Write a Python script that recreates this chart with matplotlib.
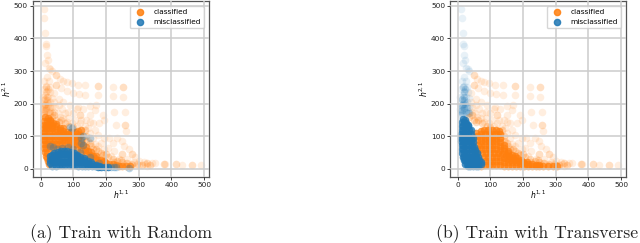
import numpy as np
import matplotlib
matplotlib.use('Agg')
import matplotlib.pyplot as plt

ORANGE = '#ff7f0e'
BLUE = '#1f77b4'

# faint points (same dataset in both panels)
sparse = np.array([
    (10, 490), (12, 462), (15, 416), (17, 382), (18, 378), (20, 350), (22, 334), (15, 325), (25, 310), (30, 305),
    (35, 300), (12, 270), (20, 282), (25, 270), (18, 255), (28, 250), (10, 245), (20, 240), (30, 235), (15, 228),
    (24, 222), (8, 220), (34, 218), (12, 210), (20, 206), (28, 204), (40, 205), (6, 200), (14, 195), (24, 192),
    (34, 190), (44, 190), (8, 185), (18, 180), (30, 178), (42, 176), (52, 172), (60, 160), (70, 155), (80, 145),
    (48, 287), (48, 287), (60, 275), (70, 270), (80, 265), (95, 262), (115, 258), (137, 256), (175, 254), (175, 254), (222, 252), (252, 250), (252, 250),
    (48, 257), (48, 257), (62, 248), (80, 238), (100, 233), (117, 230), (137, 228), (175, 226), (222, 223), (252, 222),
    (40, 232), (55, 215), (70, 205), (90, 195), (115, 190), (130, 185), (150, 192), (170, 195), (165, 180), (190, 165),
    (225, 175), (257, 175), (195, 150), (180, 140), (150, 145), (140, 150), (120, 165), (120, 165), (100, 170), (145, 125),
    (165, 120), (175, 105), (195, 95), (230, 135), (258, 135), (258, 135), (262, 115), (210, 95), (235, 95), (220, 80), (250, 85),
    (255, 70), (270, 60), (250, 45), (250, 45), (280, 45), (280, 45), (290, 35), (300, 25), (315, 22), (325, 18), (325, 18), (340, 18), (350, 18),
    (378, 15), (378, 15), (380, 14), (415, 14), (415, 14), (432, 13), (462, 12), (462, 12), (492, 11), (325, 10), (320, 14), (285, 20), (265, 30),
    (280, 12), (300, 12), (85, 175), (105, 150), (120, 140), (135, 130), (150, 110), (160, 95), (130, 108), (185, 80),
    (205, 65), (175, 70), (225, 55), (215, 40), (240, 30), (195, 60), (260, 18), (150, 165), (110, 185), (125, 150),
    (85, 155), (65, 185), (55, 195), (75, 170), (95, 140), (110, 130), (160, 140), (145, 85), (165, 75), (190, 45),
])

# medium density halo around the cores
halo_orange = [
    (62, 150), (75, 140), (88, 130), (100, 128), (135, 118), (128, 92), (140, 100), (150, 80), (160, 62), (175, 55),
    (190, 42), (205, 36), (220, 30), (235, 25), (250, 22), (265, 18), (280, 16), (295, 14), (310, 12), (335, 12),
    (140, 85), (155, 70), (170, 60), (185, 50), (200, 45), (225, 22), (245, 28), (48, 150), (55, 145), (35, 160), (42, 165),
]
halo_left = [
    (10, 178), (14, 182), (18, 186), (26, 176), (12, 192), (15, 200), (22, 198), (12, 170), (10, 165), (30, 170),
    (14, 215), (20, 222), (18, 235), (22, 245), (16, 250), (20, 210), (28, 190), (35, 172),
]

# solid core of panel (a), orange then blue on top
core_a_orange = [
    (15, 158), (22, 156), (30, 150), (12, 148), (20, 148), (28, 146), (38, 142), (46, 138),
    (11, 136), (18, 136), (26, 136), (36, 134), (48, 130), (60, 126), (70, 124),
    (11, 124), (16, 124), (26, 124), (36, 124), (46, 122), (58, 118), (70, 116), (82, 114), (94, 112), (105, 112), (115, 116), (125, 118),
    (10, 112), (15, 112), (25, 112), (35, 112), (45, 112), (55, 110), (65, 108), (75, 108), (85, 106), (95, 104), (110, 106), (122, 104),
    (10, 100), (15, 100), (25, 100), (35, 100), (45, 100), (55, 100), (65, 98), (75, 98), (85, 98), (95, 98), (105, 98), (115, 98),
    (10, 88), (15, 88), (25, 88), (35, 88), (45, 88), (55, 88), (65, 88), (75, 88), (85, 88), (95, 86), (105, 86), (115, 86), (125, 84),
    (11, 76), (16, 76), (26, 76), (36, 76), (46, 76), (56, 76), (66, 76), (78, 76), (90, 76), (100, 76), (110, 76), (120, 74), (130, 72), (140, 68),
    (12, 64), (18, 64), (28, 64), (38, 64), (50, 64), (65, 64), (80, 64), (95, 64), (110, 64), (125, 60), (135, 58), (145, 56), (155, 52),
    (14, 52), (20, 50), (125, 50), (140, 46), (150, 44), (160, 40), (170, 38),
    (16, 40), (19, 32), (150, 34), (165, 32), (175, 28), (185, 26), (195, 24), (22, 24), (26, 14),
    (175, 20), (190, 20), (200, 18), (210, 16), (220, 14), (230, 12), (240, 10), (250, 10), (262, 10), (275, 8),
]
core_a_blue = [
    (40, 48), (52, 52), (62, 54), (72, 54), (82, 54), (92, 52), (102, 48), (112, 44),
    (30, 40), (36, 42), (42, 42), (52, 44), (62, 46), (72, 46), (82, 46), (92, 44), (102, 42), (112, 38), (122, 36), (132, 32),
    (28, 28), (34, 30), (44, 30), (54, 32), (64, 32), (74, 34), (84, 34), (94, 34), (104, 32), (114, 30), (124, 28), (134, 26), (144, 24), (154, 20),
    (30, 18), (38, 20), (48, 20), (58, 22), (68, 22), (78, 22), (88, 22), (98, 22), (108, 20), (118, 20), (128, 20), (138, 18), (148, 16), (158, 14), (168, 12), (178, 10),
    (36, 10), (46, 10), (56, 12), (66, 12), (76, 12), (86, 12), (96, 12), (106, 12), (116, 10), (126, 10), (136, 10), (146, 10), (156, 8), (166, 8), (176, 6), (186, 6), (196, 5), (206, 5),
]
stray_a_blue = [
    (30, 70), (38, 68), (90, 127), (96, 125), (125, 95), (130, 100), (150, 95), (125, 78), (130, 74), (232, 5), (270, 3),
    (50, 62), (65, 64), (85, 66), (100, 60), (120, 52), (150, 36), (180, 18), (215, 6), (225, 6),
]

# solid core of panel (b)
core_b_orange = [
    (60, 50), (60, 62), (62, 74), (60, 88), (58, 100), (56, 110), (70, 116), (80, 118), (92, 118), (104, 118), (116, 118), (126, 116),
    (70, 108), (82, 108), (94, 108), (106, 108), (118, 108), (128, 106),
    (70, 96), (82, 96), (94, 96), (106, 96), (118, 96), (130, 94), (70, 84), (82, 84), (94, 84), (106, 84), (118, 84), (130, 82), (142, 72),
    (70, 72), (82, 72), (94, 72), (106, 72), (118, 72), (130, 70), (142, 64), (154, 56),
    (70, 60), (82, 60), (94, 60), (106, 60), (118, 60), (130, 58), (142, 54), (154, 48), (166, 44), (176, 40),
    (74, 48), (86, 48), (98, 48), (110, 48), (122, 48), (134, 46), (146, 42), (158, 38), (170, 34), (182, 32), (194, 28),
    (80, 36), (92, 36), (104, 36), (116, 36), (128, 36), (140, 34), (152, 30), (164, 28), (176, 26), (188, 24), (200, 22), (212, 20),
    (82, 24), (94, 24), (106, 24), (118, 24), (130, 24), (142, 22), (154, 22), (166, 20), (178, 20), (190, 18), (202, 18), (214, 16), (226, 14), (238, 12), (250, 12),
    (70, 10), (82, 12), (94, 12), (106, 12), (118, 12), (130, 12), (142, 10), (154, 10), (166, 10), (178, 10), (190, 10), (202, 10), (214, 8), (226, 8), (238, 8), (250, 8), (262, 8), (275, 8), (290, 8), (305, 8),
]
core_b_blue = [
    (15, 152), (21, 150), (13, 144), (18, 144), (25, 142), (31, 136),
    (12, 132), (17, 132), (24, 132), (31, 130), (39, 118), (12, 120), (17, 120), (24, 120), (33, 120),
    (11, 108), (15, 108), (23, 108), (32, 108), (41, 106), (46, 96), (11, 96), (15, 96), (23, 96), (32, 96), (41, 96),
    (11, 84), (15, 84), (23, 84), (32, 84), (41, 84), (47, 82), (12, 72), (16, 72), (24, 72), (33, 72), (42, 72), (49, 68),
    (13, 60), (17, 60), (25, 60), (34, 60), (43, 60), (52, 58), (58, 50), (14, 48), (18, 48), (26, 48), (35, 48), (44, 48), (53, 48),
    (16, 36), (20, 36), (28, 36), (37, 36), (46, 36), (55, 36), (62, 36), (18, 26), (22, 26), (31, 26), (40, 26), (49, 26), (58, 26), (65, 26), (70, 22),
    (22, 16), (27, 16), (36, 16), (45, 16), (54, 16), (63, 16), (70, 16), (30, 10), (37, 10), (46, 10), (55, 10), (62, 10),
]

xticks = [0, 100, 200, 300, 400, 500]
yticks = [0, 100, 200, 300, 400, 500]
captions = ['(a) Train with Random', '(b) Train with Transverse']
caption_x = [121, 537]
axes_px = [(32.7, 209), (450, 626)]

W, H = 640, 243
SIZE = 30


def style_axis(ax):
    ax.set_xlim(-24, 515)
    ax.set_ylim(-24, 515)
    ax.set_xticks(xticks)
    ax.set_yticks(yticks)
    ax.tick_params(labelsize=5.3, length=2, width=0.6, pad=1.5, colors='#222222')
    ax.set_xlabel(r'$h^{1,1}$', fontsize=5.5, labelpad=0.5)
    ax.set_ylabel(r'$h^{2,1}$', fontsize=5.5, labelpad=0.5)
    ax.grid(True, color='#cccccc', lw=1.1, zorder=5)
    ax.set_axisbelow(False)
    for s in ax.spines.values():
        s.set_color('#555555')
        s.set_linewidth(0.9)
    h1 = ax.scatter([], [], s=20, color=ORANGE, alpha=0.85, label='classified')
    h2 = ax.scatter([], [], s=20, color=BLUE, alpha=0.85, label='misclassified')
    ax.legend(handles=[h1, h2], loc='upper right', fontsize=5.3, borderaxespad=0.7)


def draw(ax, pts, color, alpha):
    pts = np.array(pts)
    ax.scatter(pts[:, 0], pts[:, 1], s=SIZE, color=color, alpha=alpha, linewidths=0, zorder=2)


figure = plt.figure(figsize=(W / 100, H / 100), dpi=100)
axes = []
for left, right in axes_px:
    axes.append(figure.add_axes([left / W, 1 - 176.7 / H, (right - left) / W, 175.7 / H]))

draw(axes[0], sparse, ORANGE, 0.13)
draw(axes[0], halo_left, ORANGE, 0.16)
draw(axes[0], halo_orange, ORANGE, 0.25)
draw(axes[0], core_a_orange, ORANGE, 0.7)
draw(axes[0], stray_a_blue, BLUE, 0.3)
draw(axes[0], core_a_blue, BLUE, 0.8)

left_side = sparse[:, 0] < 38
draw(axes[1], sparse[~left_side], ORANGE, 0.13)
draw(axes[1], sparse[left_side], BLUE, 0.1)
draw(axes[1], halo_left, BLUE, 0.2)
draw(axes[1], halo_orange, ORANGE, 0.25)
draw(axes[1], core_b_orange, ORANGE, 0.75)
draw(axes[1], core_b_blue, BLUE, 0.8)

for ax in axes:
    style_axis(ax)

for cap, cx in zip(captions, caption_x):
    figure.text(cx / W, 1 - 234 / H, cap, family='cmr10', fontsize=12.7, ha='center', va='center', color='#222222')

figure.savefig('out.png', dpi=100)
plt.close(figure)
